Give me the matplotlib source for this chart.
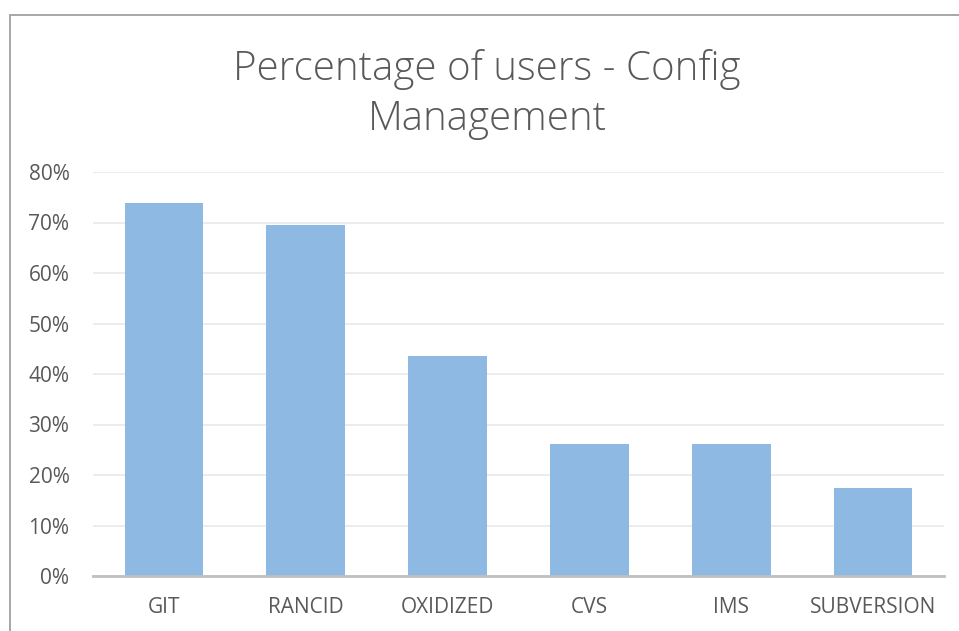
import matplotlib
matplotlib.use("Agg")
import matplotlib.pyplot as plt
from matplotlib.patches import Rectangle
from matplotlib.ticker import PercentFormatter

categories = ["GIT", "RANCID", "OXIDIZED", "CVS", "IMS", "SUBVERSION"]
values = [0.739, 0.696, 0.435, 0.261, 0.261, 0.174]
yticks = [0, 0.1, 0.2, 0.3, 0.4, 0.5, 0.6, 0.7, 0.8]

plt.rcParams['font.family'] = ['Open Sans', 'DejaVu Sans']
W, H = 959, 631
fig = plt.figure(figsize=(W/100, H/100), dpi=100)
ax = fig.add_axes([93/W, 1-576/H, (944-93)/W, (576-172)/H])

x = range(len(categories))
ax.bar(x, values, width=0.555, color='#8DB9E2', zorder=3)
ax.set_xlim(-0.5, len(categories)-0.5)
ax.set_ylim(0, 0.8)
ax.set_yticks(yticks)
ax.yaxis.set_major_formatter(PercentFormatter(1.0, decimals=0))
ax.set_xticks(list(x))
ax.set_xticklabels(categories)
ax.grid(axis='y', color='#E9E9E9', linewidth=1.2, zorder=0)
for s in ['top', 'right', 'left']:
    ax.spines[s].set_visible(False)
ax.spines['bottom'].set_color('#BFBFBF')
ax.spines['bottom'].set_linewidth(2)
ax.spines['bottom'].set_zorder(4)
ax.tick_params(axis='both', length=0, labelcolor='#595959', labelsize=15)
ax.tick_params(axis='y', pad=17)
ax.tick_params(axis='x', pad=15)

fig.text(487/W, 1-69/H, "Percentage of users - Config", ha='center', va='center',
         fontsize=29, color='#595959', fontweight='light')
fig.text(487/W, 1-119/H, "Management", ha='center', va='center',
         fontsize=29, color='#595959', fontweight='light')

fig.patches.append(Rectangle((10/W, -0.1), 1.2, 1-15/H+0.1, transform=fig.transFigure,
                             fill=False, edgecolor='#A0A0A0', linewidth=1.3))

fig.savefig("out.png", dpi=100)
